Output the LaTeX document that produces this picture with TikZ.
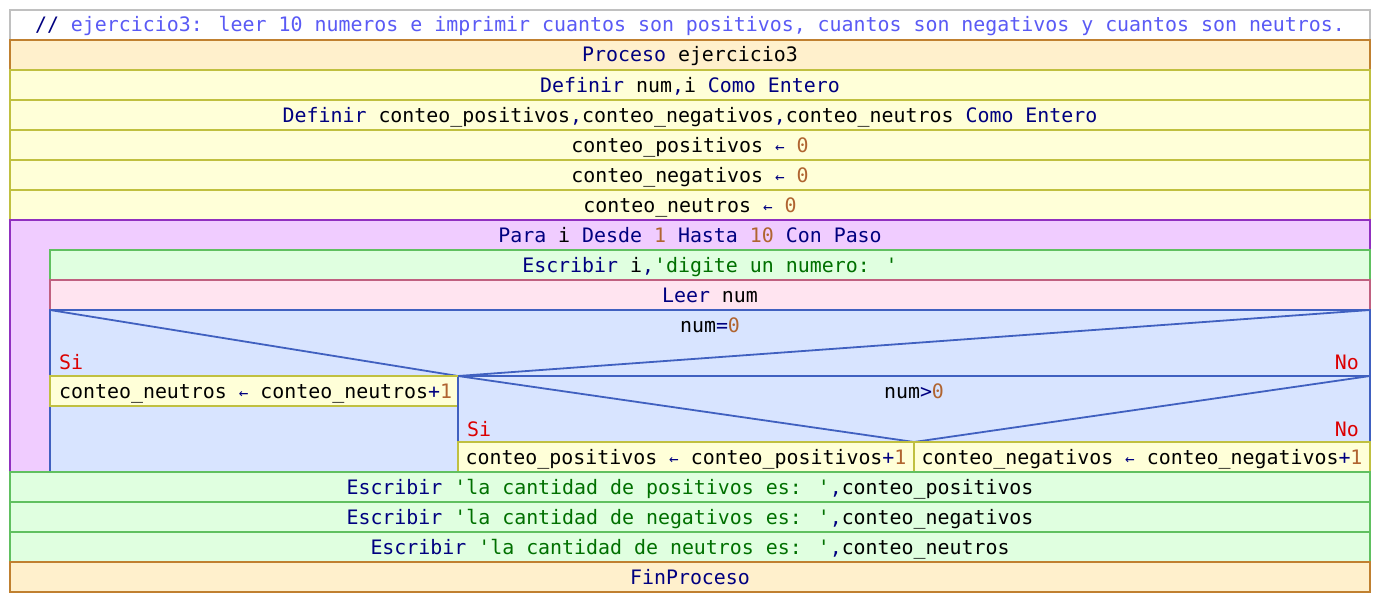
\documentclass[tikz,border=0pt]{standalone}
\usepackage{fontspec}
\usepackage{tikz}
\usetikzlibrary{positioning}
\newfontfamily\codefont[Ligatures=ResetAll]{DejaVu Sans Mono}

\definecolor{comline}{RGB}{192,192,192}
\definecolor{comcol}{RGB}{90,90,245}
\definecolor{kwcol}{RGB}{0,0,128}
\definecolor{nrocol}{RGB}{176,100,48}
\definecolor{cadcol}{RGB}{0,112,0}
\definecolor{ladocol}{RGB}{220,0,0}
\definecolor{procfill}{RGB}{255,240,204}
\definecolor{procline}{RGB}{192,128,48}
\definecolor{asigfill}{RGB}{255,255,216}
\definecolor{asigline}{RGB}{192,192,64}
\definecolor{parafill}{RGB}{240,204,255}
\definecolor{paraline}{RGB}{144,48,192}
\definecolor{escfill}{RGB}{224,255,224}
\definecolor{escline}{RGB}{96,192,96}
\definecolor{leefill}{RGB}{255,228,240}
\definecolor{leeline}{RGB}{192,96,128}
\definecolor{decfill}{RGB}{216,228,255}
\definecolor{decline}{RGB}{64,96,192}

\newcommand{\kw}[1]{\textcolor{kwcol}{#1}}
\newcommand{\nro}[1]{\textcolor{nrocol}{#1}}
\newcommand{\cad}[1]{\textcolor{cadcol}{#1}}
\newcommand{\asig}{\kw{\scalebox{0.8}{←}}}

\tikzset{x=1pt,y=-1pt,
  fila/.style={draw,line width=1.8pt,minimum height=30pt,inner sep=0pt,outer sep=0pt,
    text height=16pt,text depth=2pt,font=\codefont\fontsize{19.9}{24}\selectfont},
  comentario/.style={fila,draw=comline,fill=white},
  proceso/.style={fila,draw=procline,fill=procfill},
  asigna/.style={fila,draw=asigline,fill=asigfill},
  ciclo/.style={fila,draw=paraline,fill=parafill,text height=,text depth=},
  escribe/.style={fila,draw=escline,fill=escfill},
  lee/.style={fila,draw=leeline,fill=leefill},
  decision/.style={fila,draw=decline,fill=decfill,text height=,text depth=},
  texto/.style={inner sep=0pt,font=\codefont\fontsize{19.9}{24}\selectfont},
  lado/.style={texto,text=ladocol},
  diagonal/.style={draw=decline,line width=1.8pt}
}

\begin{document}
\begin{tikzpicture}
  \useasboundingbox (0,0) rectangle (1380,602);

  \node[comentario,minimum width=1360pt] (comentario) at (690,25) {\kw{//} \textcolor{comcol}{ejercicio3: leer 10 numeros e imprimir cuantos son positivos, cuantos son negativos y cuantos son neutros.}};
  \node[proceso,minimum width=1360pt] (proceso) at (690,55) {\kw{Proceso} ejercicio3};
  \node[asigna,minimum width=1360pt] (defa) at (690,85) {\kw{Definir} num\kw{,}i \kw{Como Entero}};
  \node[asigna,minimum width=1360pt] (defb) at (690,115) {\kw{Definir} conteo\_positivos\kw{,}conteo\_negativos\kw{,}conteo\_neutros \kw{Como Entero}};
  \node[asigna,minimum width=1360pt] (inipos) at (690,145) {conteo\_positivos \asig{} \nro{0}};
  \node[asigna,minimum width=1360pt] (inineg) at (690,175) {conteo\_negativos \asig{} \nro{0}};
  \node[asigna,minimum width=1360pt] (inineu) at (690,205) {conteo\_neutros \asig{} \nro{0}};

  % bucle Para
  \node[ciclo,minimum width=1360pt,minimum height=252pt] (para) at (690,346) {};
  \node[texto] (paratxt) at (690,235) {\kw{Para} i \kw{Desde} \nro{1} \kw{Hasta} \nro{10} \kw{Con Paso}};
  \node[escribe,minimum width=1320pt] (pide) at (710,265) {\kw{Escribir} i\kw{,}\cad{'digite un numero: '}};
  \node[lee,minimum width=1320pt] (leer) at (710,295) {\kw{Leer} num};

  % si num=0
  \node[decision,minimum width=1320pt,minimum height=162pt] (sicero) at (710,391) {};
  \node[asigna,minimum width=408pt] (neutros) at (254,391) {\,conteo\_neutros \asig{} conteo\_neutros\kw{+}\nro{1}};
  \node[texto] (cero) at (710,325) {num\kw{=}\nro{0}};
  \node[lado,anchor=base west] (sia) at (59,369) {Si};
  \node[lado,anchor=base east] (noa) at (1359,369) {No};

  % si num>0
  \node[decision,minimum width=912pt,minimum height=96pt] (simayor) at (914,424) {};
  \node[asigna,minimum width=456pt] (positivos) at (686,457) {conteo\_positivos \asig{} conteo\_positivos\kw{+}\nro{1}};
  \node[asigna,minimum width=456pt] (negativos) at (1142,457) {conteo\_negativos \asig{} conteo\_negativos\kw{+}\nro{1}};
  \node[texto] (mayor) at (914,391) {num\kw{>}\nro{0}};
  \node[lado,anchor=base west] (sib) at (467,436) {Si};
  \node[lado,anchor=base east] (nob) at (1359,436) {No};

  \draw[diagonal] (sicero.north west) -- (neutros.north east) -- (sicero.north east);
  \draw[diagonal] (simayor.north west) -- (positivos.north east) -- (simayor.north east);
  \draw[draw=asigline,line width=1.8pt] (neutros.north west) -- (neutros.north east);
  \draw[draw=asigline,line width=1.8pt] (positivos.north west) -- (negativos.north east);

  \node[escribe,minimum width=1360pt] (respos) at (690,487) {\kw{Escribir} \cad{'la cantidad de positivos es: '}\kw{,}conteo\_positivos};
  \node[escribe,minimum width=1360pt] (resneg) at (690,517) {\kw{Escribir} \cad{'la cantidad de negativos es: '}\kw{,}conteo\_negativos};
  \node[escribe,minimum width=1360pt] (resneu) at (690,547) {\kw{Escribir} \cad{'la cantidad de neutros es: '}\kw{,}conteo\_neutros};
  \node[proceso,minimum width=1360pt] (fin) at (690,577) {\kw{FinProceso}};

\end{tikzpicture}
\end{document}
